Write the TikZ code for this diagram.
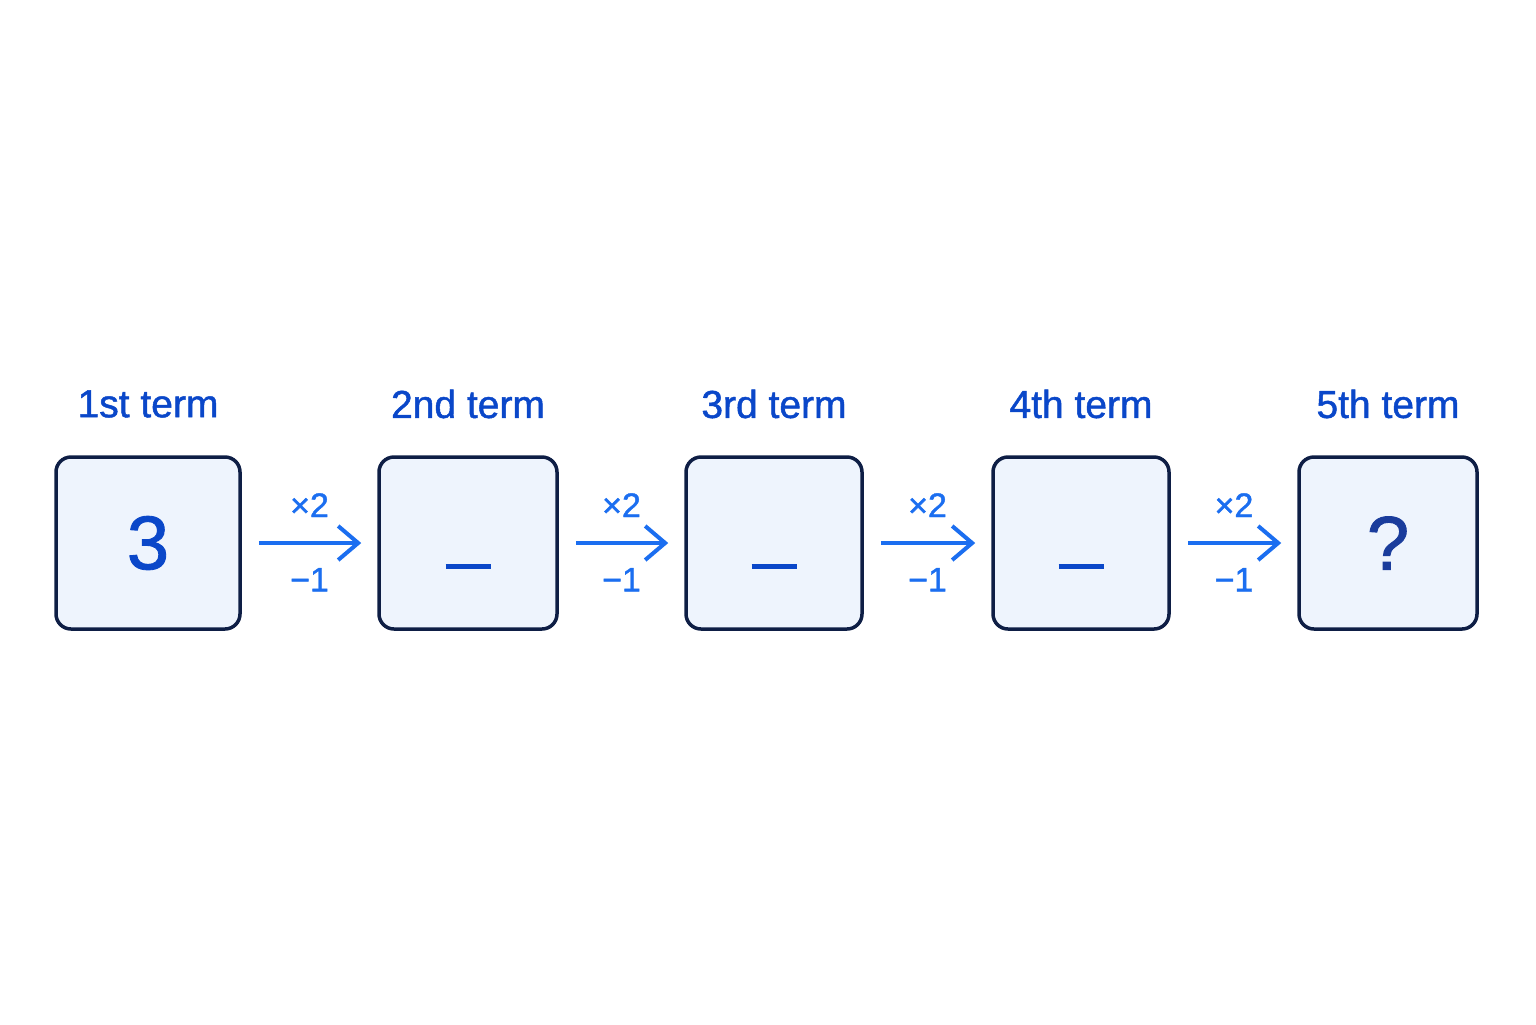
\documentclass[tikz,border=0pt]{standalone}
\usepackage{fontspec}
\setmainfont{Liberation Sans}[FakeBold=1.2]
\usetikzlibrary{arrows.meta}
\definecolor{termblue}{HTML}{0A47C9}
\definecolor{arrowblue}{HTML}{1B6EF0}
\definecolor{boxfill}{HTML}{EEF4FD}
\definecolor{boxline}{HTML}{0E1E45}
\definecolor{qblue}{HTML}{1A3C9C}
\def\boxh{86pt}

\begin{document}
\begin{tikzpicture}[x=0.5pt,y=-0.5pt]
  \tikzstyle{term box}=[rectangle,rounded corners=7.5pt,draw=boxline,line width=1.75pt,
    fill=boxfill,minimum height=\boxh,inner sep=0pt,text=termblue,
    font=\fontsize{38}{44}\selectfont]
  \tikzstyle{term label}=[text=termblue,font=\fontsize{19.5}{23}\selectfont]
  \tikzstyle{rule}=[text=arrowblue,font=\fontsize{17}{20}\selectfont,inner sep=3pt]
  \tikzstyle{next}=[draw=arrowblue,line width=2pt,-{Straight Barb[length=10pt,width=17pt]},
    shorten <=8.5pt,shorten >=8pt]
  \tikzstyle{blank}=[draw=termblue,line width=2.5pt]

  \useasboundingbox (0,0) rectangle (1536,1024);

  % Draw the term boxes
  \foreach \name / \x / \w / \val in {1/148/92pt/3,2/468/89pt/{},3/774/88pt/{},
    4/1081/88pt/{},5/1388/89pt/{\textcolor{qblue}{?}}}
  \node[term box, minimum width=\w] (B-\name) at (\x,543) {\val};

  % Term labels
  \node[term label, above of=B-1, node distance=69.5pt] (l1) {1st term};
  \node[term label, above of=B-2, node distance=69.5pt] (l2) {2nd term};
  \node[term label, above of=B-3, node distance=69.5pt] (l3) {3rd term};
  \node[term label, above of=B-4, node distance=69.5pt] (l4) {4th term};
  \node[term label, above of=B-5, node distance=69.5pt] (l5) {5th term};

  % Blanks to fill in
  \foreach \name in {2,3,4}
  \draw[blank] ([xshift=-11.25pt,yshift=-11.5pt]B-\name.center)
    -- ([xshift=11.25pt,yshift=-11.5pt]B-\name.center);

  % Connect boxes
  \foreach \source / \dest in {1/2,2/3,3/4,4/5}
  \draw[next] (B-\source) -- node[rule, above=9pt] {×2} node[rule, below=8.5pt] {−1} (B-\dest);
\end{tikzpicture}
\end{document}
